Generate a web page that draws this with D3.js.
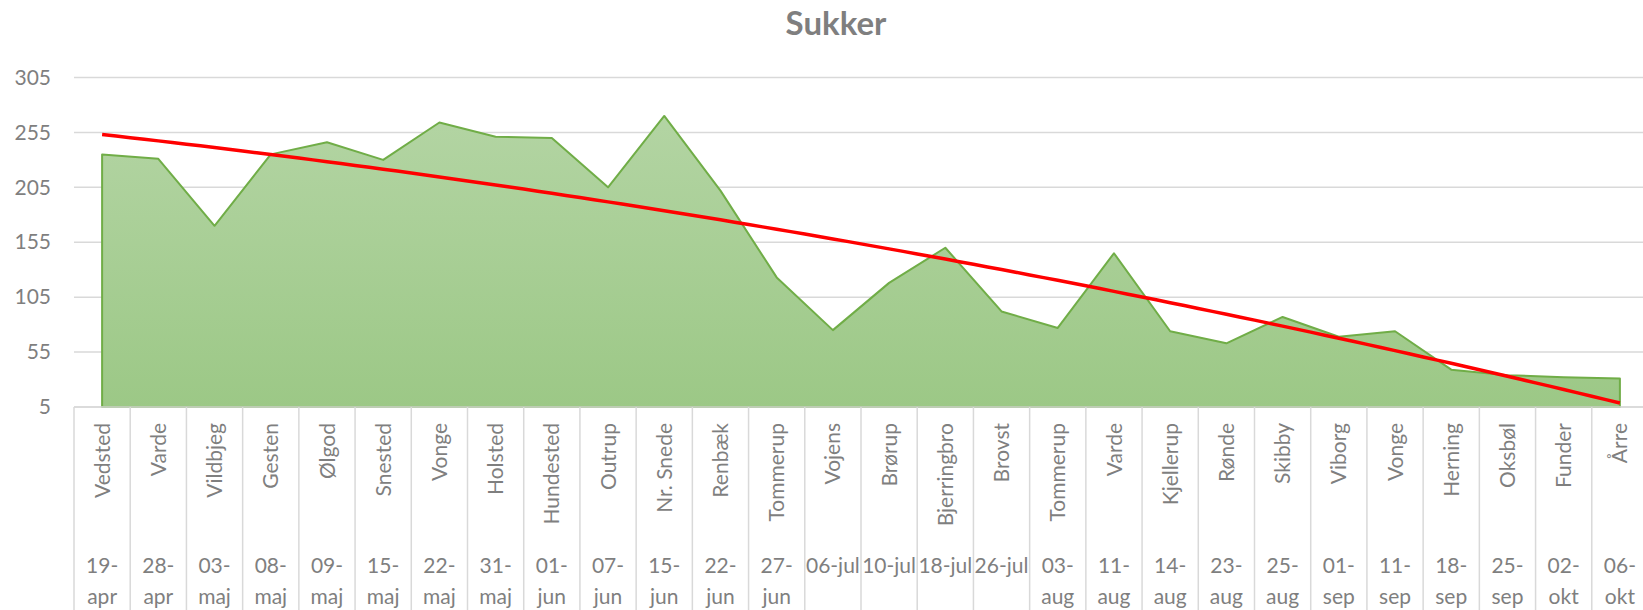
<!DOCTYPE html>
<html>
<head>
<meta charset="utf-8">
<script src="https://cdn.jsdelivr.net/npm/d3@7"></script>
<style>
  body { margin: 0; background: #fff; }
  text { font-family: Lato, "Open Sans", sans-serif; }
</style>
</head>
<body>
<div id="chart"></div>
<script>
// Sukker - area chart with polynomial trend line

// data
var places = ["Vedsted", "Varde", "Vildbjeg", "Gesten", "Ølgod", "Snested", "Vonge", "Holsted",
    "Hundested", "Outrup", "Nr. Snede", "Renbæk", "Tommerup", "Vojens", "Brørup", "Bjerringbro",
    "Brovst", "Tommerup", "Varde", "Kjellerup", "Rønde", "Skibby", "Viborg", "Vonge", "Herning",
    "Oksbøl", "Funder", "Årre"];
var dates = ["19-apr", "28-apr", "03-maj", "08-maj", "09-maj", "15-maj", "22-maj", "31-maj",
    "01-jun", "07-jun", "15-jun", "22-jun", "27-jun", "06-jul", "10-jul", "18-jul", "26-jul",
    "03-aug", "11-aug", "14-aug", "23-aug", "25-aug", "01-sep", "11-sep", "18-sep", "25-sep",
    "02-okt", "06-okt"];
var sukker = [235, 231, 170, 235, 246, 230, 264, 251, 250, 205, 270, 202, 123, 75, 118, 150,
    92, 77, 145, 74, 63, 87, 69, 74, 39, 34, 32, 31];
var yTicks = [5, 55, 105, 155, 205, 255, 305];

// set the dimensions of the graph
var width = 1643;
var height = 610;
var plotLeft = 74, plotRight = 1648, plotTop = 77.5, plotBottom = 407;

var svg = d3.select("#chart")
    .append("svg")
    .attr("width", width)
    .attr("height", height);

var ids = d3.range(sukker.length);

var x = d3.scaleBand()
    .domain(ids)
    .range([plotLeft, plotRight]);

var y = d3.scaleLinear()
    .domain([5, 305])
    .range([plotBottom, plotTop]);

var cx = function(i) { return x(i) + x.bandwidth() / 2; };

// gradient for the area
var grad = svg.append("defs").append("linearGradient")
    .attr("id", "greenFill")
    .attr("gradientUnits", "userSpaceOnUse")
    .attr("x1", 0).attr("y1", plotTop)
    .attr("x2", 0).attr("y2", plotBottom);
grad.append("stop").attr("offset", "0%").attr("stop-color", "#b6d6a7");
grad.append("stop").attr("offset", "100%").attr("stop-color", "#9cc886");

// title
svg.append("text")
    .attr("x", 836)
    .attr("y", 35)
    .attr("text-anchor", "middle")
    .style("font-size", "33px")
    .style("font-weight", "bold")
    .style("fill", "#7f7f7f")
    .text("Sukker");

// gridlines
svg.append("g")
    .selectAll("line")
    .data(yTicks)
    .enter()
    .append("line")
    .attr("x1", plotLeft)
    .attr("x2", plotRight)
    .attr("y1", function(d) { return y(d); })
    .attr("y2", function(d) { return y(d); })
    .style("stroke", "#d9d9d9")
    .style("stroke-width", 1.5);

// y axis
var yAxis = svg.append("g")
    .attr("transform", "translate(" + (plotLeft - 23) + ",0)")
    .call(d3.axisLeft(y).tickValues(yTicks).tickSize(0).tickPadding(0));
yAxis.select(".domain").remove();
yAxis.selectAll("text")
    .style("font-size", "21px")
    .style("fill", "#7f7f7f")
    .style("font-family", "Lato, sans-serif");

// area
var area = d3.area()
    .x(function(d, i) { return cx(i); })
    .y0(y(5))
    .y1(function(d) { return y(d); });

svg.append("path")
    .datum(sukker)
    .attr("d", area)
    .style("fill", "url(#greenFill)")
    .style("stroke", "#70ad47")
    .style("stroke-width", 2)
    .style("stroke-linejoin", "round");

// category separators
var seps = d3.range(sukker.length + 1);
svg.append("g")
    .selectAll("line")
    .data(seps)
    .enter()
    .append("line")
    .attr("x1", function(d) { return plotLeft + d * x.bandwidth(); })
    .attr("x2", function(d) { return plotLeft + d * x.bandwidth(); })
    .attr("y1", plotBottom)
    .attr("y2", height)
    .style("stroke", "#d9d9d9")
    .style("stroke-width", 1.5);

svg.append("line")
    .attr("x1", plotLeft).attr("x2", plotRight)
    .attr("y1", plotBottom).attr("y2", plotBottom)
    .style("stroke", "#d9d9d9")
    .style("stroke-width", 1.5);

// polynomial (order 2) trend line, least squares like Excel
function polyFit(vals) {
    var s = [0, 0, 0, 0, 0], t = [0, 0, 0];
    vals.forEach(function(v, i) {
        var xi = i + 1;
        for (var k = 0; k < 5; k++) s[k] += Math.pow(xi, k);
        for (var k = 0; k < 3; k++) t[k] += v * Math.pow(xi, k);
    });
    var m = [[s[0], s[1], s[2], t[0]], [s[1], s[2], s[3], t[1]], [s[2], s[3], s[4], t[2]]];
    for (var c = 0; c < 3; c++) {
        for (var r = c + 1; r < 3; r++) {
            var f = m[r][c] / m[c][c];
            for (var k = c; k < 4; k++) m[r][k] -= f * m[c][k];
        }
    }
    var b = [0, 0, 0];
    for (var r = 2; r >= 0; r--) {
        var sum = m[r][3];
        for (var k = r + 1; k < 3; k++) sum -= m[r][k] * b[k];
        b[r] = sum / m[r][r];
    }
    return function(xi) { return b[0] + b[1] * xi + b[2] * xi * xi; };
}
var trend = polyFit(sukker);
var trendPts = d3.range(0, sukker.length - 1 + 0.001, 0.25);

svg.append("path")
    .datum(trendPts)
    .attr("d", d3.line()
        .x(function(t) { return cx(0) + t * x.bandwidth(); })
        .y(function(t) { return y(trend(t + 1)); }))
    .style("fill", "none")
    .style("stroke", "#ff0000")
    .style("stroke-width", 3.5);

// category labels: place names rotated
svg.append("g")
    .selectAll("text")
    .data(places)
    .enter()
    .append("text")
    .attr("transform", function(d, i) { return "translate(" + cx(i) + ",423) rotate(-90)"; })
    .attr("text-anchor", "end")
    .attr("dy", "0.36em")
    .style("font-size", "21px")
    .style("fill", "#7f7f7f")
    .text(function(d) { return d; });

// dates, wrapped at the dash when they do not fit
var dateG = svg.append("g");
dates.forEach(function(d, i) {
    var t = dateG.append("text")
        .attr("x", cx(i))
        .attr("y", 573)
        .attr("text-anchor", "middle")
        .style("font-size", "21px")
        .style("fill", "#7f7f7f")
        .text(d);
    if (t.node().getComputedTextLength() > x.bandwidth() - 1) {
        var parts = d.split("-");
        t.text(parts[0] + "-");
        dateG.append("text")
            .attr("x", cx(i))
            .attr("y", 604)
            .attr("text-anchor", "middle")
            .style("font-size", "21px")
            .style("fill", "#7f7f7f")
            .text(parts[1]);
    }
});
</script>
</body>
</html>
